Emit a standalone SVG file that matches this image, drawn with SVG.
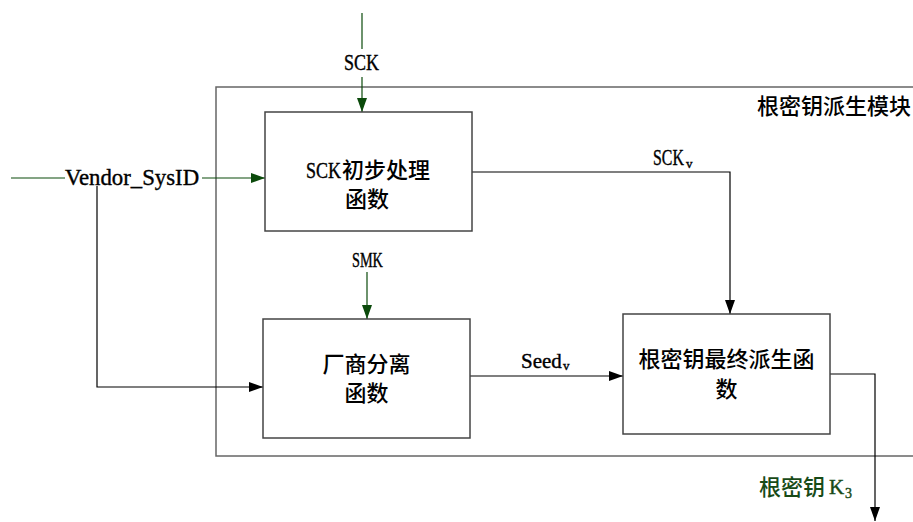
<svg xmlns="http://www.w3.org/2000/svg" width="913" height="522" viewBox="0 0 913 522">
<style>
.box{fill:#fff;stroke:#444;stroke-width:1.5}
.outer{fill:none;stroke:#666;stroke-width:1.5}
.ln{fill:none;stroke:#000;stroke-width:1.2}
.gl{fill:none;stroke:#0b4a0b;stroke-width:1.2}
.cjk{font-family:"Noto Sans CJK SC","Noto Sans",sans-serif;font-size:22px;font-weight:500;fill:#000}
.lat{font-family:"Liberation Serif","Noto Sans CJK SC",serif;fill:#000;stroke:#000;stroke-width:0.4}
.green{fill:#174a17}
.lat.green{stroke:#174a17}
</style>
<defs>
<marker id="ab" markerUnits="userSpaceOnUse" markerWidth="14" markerHeight="10" refX="14" refY="5" orient="auto"><path d="M0,0 L14,5 L0,10 Z" fill="#000"/></marker>
<marker id="ag" markerUnits="userSpaceOnUse" markerWidth="14" markerHeight="10" refX="14" refY="5" orient="auto"><path d="M0,0 L14,5 L0,10 Z" fill="#0b4a0b"/></marker>
</defs>
<rect width="913" height="522" fill="#fff"/>
<g id="module">
<rect class="outer" x="216" y="87" width="720" height="369"/>
<text class="cjk" x="757" y="114">根密钥派生模块</text>
</g>
<g id="connectors">
<path class="gl" d="M362,13 V49"/>
<path class="gl" d="M362,77 V112" marker-end="url(#ag)"/>
<path class="gl" d="M11,178 H65"/>
<path class="gl" d="M202,178 H265" marker-end="url(#ag)"/>
<path class="ln" d="M97,186 V387 H263" marker-end="url(#ab)"/>
<path class="gl" d="M367,272 V319" marker-end="url(#ag)"/>
<path class="ln" d="M472,172 H730 V314" marker-end="url(#ab)"/>
<path class="ln" d="M470,376 H623" marker-end="url(#ab)"/>
<path class="ln" d="M830,374 H875 V521" marker-end="url(#ab)"/>
</g>
<g id="labels">
<text class="lat" transform="translate(344,70) scale(0.75,1)" font-size="24">SCK</text>
<text class="lat" transform="translate(65,185) scale(0.95,1)" font-size="24">Vendor_SysID</text>
<text class="lat" transform="translate(352,267) scale(0.68,1)" font-size="21">SMK</text>
<text class="lat" transform="translate(653,165) scale(0.69,1)" font-size="23">SCK</text>
<text class="lat" x="686" y="168" font-size="13">v</text>
<text class="lat" x="521" y="368" font-size="21">Seed</text>
<text class="lat" x="563" y="370" font-size="13">v</text>
<text class="cjk green" x="759" y="495">根密钥</text>
<text class="lat green" x="829" y="494" font-size="21">K</text>
<text class="lat green" x="845" y="498" font-size="14">3</text>
</g>
<g id="sck-proc">
<rect class="box" x="265" y="112" width="207" height="119"/>
<text class="lat" transform="translate(306,177.5) scale(0.75,1)" font-size="24">SCK</text>
<text class="cjk" x="342" y="177.5">初步处理</text>
<text class="cjk" x="367" y="206.5" text-anchor="middle">函数</text>
</g>
<g id="vendor-sep">
<rect class="box" x="263" y="319" width="207" height="119"/>
<text class="cjk" x="366.5" y="371.5" text-anchor="middle">厂商分离</text>
<text class="cjk" x="366.5" y="400.5" text-anchor="middle">函数</text>
</g>
<g id="final-derive">
<rect class="box" x="623" y="314" width="207" height="120"/>
<text class="cjk" x="726.5" y="366.5" text-anchor="middle">根密钥最终派生函</text>
<text class="cjk" x="726.5" y="396.5" text-anchor="middle">数</text>
</g>
</svg>
